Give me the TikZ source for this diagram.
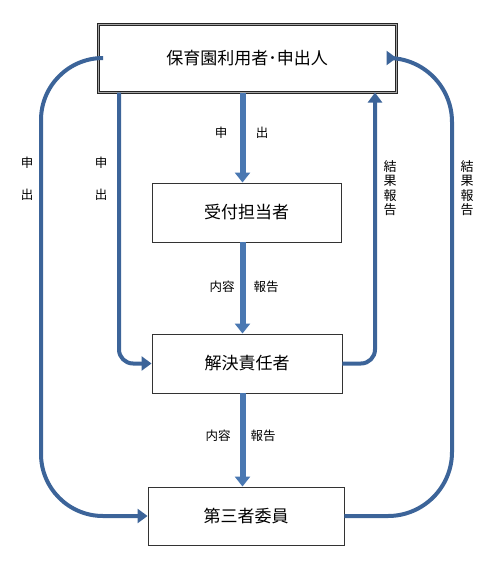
\documentclass[tikz,border=0pt]{standalone}
\usepackage{fontspec}
\setmainfont{Noto Sans CJK JP}
\usetikzlibrary{arrows.meta}
\definecolor{lineblue}{HTML}{3C6499}
\definecolor{blockblue}{HTML}{4A78B2}
\definecolor{boxshade}{HTML}{C6E2EC}
\pgfdeclareverticalshading{boxsh}{100bp}{color(0bp)=(boxshade); color(8bp)=(white); color(100bp)=(white)}
\tikzset{
  box/.style={draw=black!80, line width=0.9pt, minimum width=#1, inner sep=0pt,
    shading=boxsh, font=\fontsize{17}{17}\selectfont},
  topbox/.style={box=298pt, minimum height=68pt, draw=black!85, double=black!35, double distance=1pt, line width=1pt},
  flowline/.style={draw=lineblue, line width=4pt, -{Triangle[width=14pt,length=10pt]}},
  blockarrow/.style={draw=blockblue, line width=6pt, -{Triangle[width=15pt,length=10pt]}},
  lab/.style={font=\fontsize{12.5}{12.5}\selectfont, inner sep=0pt},
  vlab/.style={font=\fontsize{13}{14.5}\selectfont, align=center, inner sep=0pt}
}
\begin{document}
\begin{tikzpicture}[x=1pt,y=-1pt]
\useasboundingbox (0,0) rectangle (500,562);
\node[topbox] (top) at (247,58) {保育園利用者･申出人};
\node[box=189pt, minimum height=59pt] (uke) at (246.5,212.5) {受付担当者};
\node[box=190pt, minimum height=59pt] (kai) at (247,363.5) {解決責任者};
\node[box=196pt, minimum height=58pt] (dai) at (246,516) {第三者委員};
\coordinate (li) at (119,0);
\coordinate (lo) at (41,0);
\coordinate (ri) at (375,0);
\coordinate (ro) at (452,0);
\coordinate (cx) at (242.5,0);
% center block arrows
\draw[blockarrow] (top.south -| cx) -- (uke.north -| cx);
\draw[blockarrow] (uke.south -| cx) -- (kai.north -| cx);
\draw[blockarrow] (kai.south -| cx) -- (dai.north -| cx);
% left lines
\draw[flowline, rounded corners=14pt] (top.south -| li) |- (kai.west);
\draw[flowline, rounded corners=62pt] (top.west) -| (dai.west -| lo) -- (dai.west);
% right lines
\draw[flowline, rounded corners=14pt] (kai.east) -| (top.south -| ri);
\draw[flowline, rounded corners=64pt] (dai.east) -| (top.east -| ro) -- (top.east);
% labels
\node[lab] (s1) at (221,133) {申};
\node[lab] (d1) at (262,133) {出};
\node[lab] (s2) at (101,163) {申};
\node[lab] (d2) at (101,195) {出};
\node[lab] (s3) at (27,163) {申};
\node[lab] (d3) at (27,195) {出};
\node[lab] (n1) at (222,287) {内容};
\node[lab] (h1) at (266,287) {報告};
\node[lab] (n2) at (218,436) {内容};
\node[lab] (h2) at (263,436) {報告};
\node[vlab] (k1) at (390,188) {結\\果\\報\\告};
\node[vlab] (k2) at (467,188) {結\\果\\報\\告};
\end{tikzpicture}
\end{document}
